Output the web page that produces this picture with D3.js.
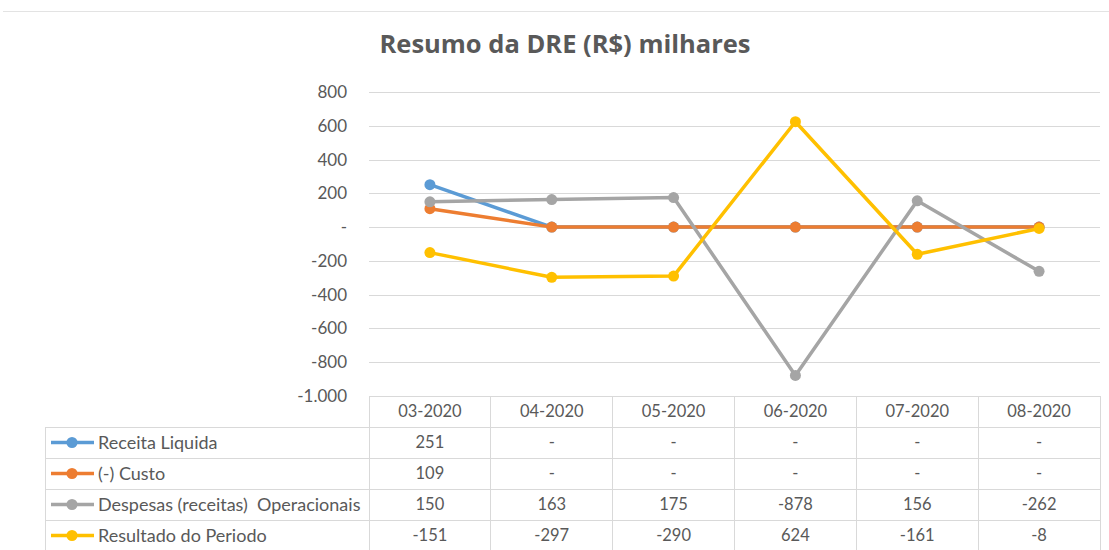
<!DOCTYPE html>
<html>
<head>
<meta charset="utf-8">
<script src="https://cdn.jsdelivr.net/npm/d3@7"></script>
<style>
  html, body { margin: 0; padding: 0; background: #fff; }
  svg { display: block; }
  text { white-space: pre; }
</style>
</head>
<body>
<div id="chart"></div>
<script>
// data (R$ milhares)
const months = ["03-2020", "04-2020", "05-2020", "06-2020", "07-2020", "08-2020"];
const seriesNames = ["Receita Liquida", "(-) Custo", "Despesas (receitas)  Operacionais", "Resultado do Periodo"];
const receitaLiquida = [251, 0, 0, 0, 0, 0];
const custo = [109, 0, 0, 0, 0, 0];
const despesas = [150, 163, 175, -878, 156, -262];
const resultado = [-151, -297, -290, 624, -161, -8];
const yTicks = [800, 600, 400, 200, 0, -200, -400, -600, -800, -1000];
const colors = ["#5B9BD5", "#ED7D31", "#A5A5A5", "#FFC000"];

const seriesValues = [receitaLiquida, custo, despesas, resultado];

let full_width = 1109;
let full_height = 550;
let plot = {left: 369, right: 1100, top: 92, bottom: 396};
let rowH = 31;
let tableLeft = 45;
let font = "Lato, 'Liberation Sans', sans-serif";
let textColor = "#595959";
let gridColor = "#D9D9D9";

// pt-BR style numbers: 1.000, zero shown as "-"
const loc = d3.formatLocale({decimal: ",", thousands: ".", grouping: [3], currency: ["R$", ""], minus: "-"});
const fmt = v => v === 0 ? "-" : loc.format(",d")(v);

let svg = d3.select('#chart')
	.append('svg')
		.attr('width', full_width)
		.attr('height', full_height)
		.style('font-family', font);

// thin frame line at top
svg.append('line')
	.attr('x1', 3).attr('x2', full_width)
	.attr('y1', 11.5).attr('y2', 11.5)
	.attr('stroke', '#E3E3E3');

svg.append('text')
	.attr('x', 565)
	.attr('y', 53)
	.attr('text-anchor', 'middle')
	.attr('font-family', "'Open Sans', sans-serif")
	.attr('font-weight', 'bold')
	.attr('font-size', '25.5px')
	.attr('fill', textColor)
	.text('Resumo da DRE (R$) milhares');

let x = d3.scaleBand()
	.domain(months)
	.range([plot.left, plot.right]);
let y = d3.scaleLinear()
	.domain([-1000, 800])
	.range([plot.bottom, plot.top]);

// gridlines + y labels
let yAxis = svg.append('g')
	.attr('transform', 'translate(' + plot.left + ',0)')
	.call(d3.axisLeft(y).tickValues(yTicks).tickSize(-(plot.right - plot.left)).tickFormat(fmt).tickPadding(22));
yAxis.select('.domain').remove();
yAxis.selectAll('.tick line')
	.attr('stroke', gridColor)
	.attr('shape-rendering', 'crispEdges');
yAxis.selectAll('.tick text')
	.attr('fill', textColor)
	.attr('font-family', font)
	.attr('font-size', '17px');

// data table
let table = svg.append('g').attr('shape-rendering', 'crispEdges');
let tableBottom = plot.bottom + rowH * 5;
// horizontal lines
table.append('line')
	.attr('x1', plot.left).attr('x2', plot.right)
	.attr('y1', plot.bottom).attr('y2', plot.bottom)
	.attr('stroke', gridColor);
for (let i = 1; i <= 5; ++i) {
	table.append('line')
		.attr('x1', tableLeft).attr('x2', plot.right)
		.attr('y1', plot.bottom + rowH * i).attr('y2', plot.bottom + rowH * i)
		.attr('stroke', gridColor);
}
// vertical lines
table.append('line')
	.attr('x1', tableLeft).attr('x2', tableLeft)
	.attr('y1', plot.bottom + rowH).attr('y2', tableBottom)
	.attr('stroke', gridColor);
months.forEach(m => {
	table.append('line')
		.attr('x1', x(m)).attr('x2', x(m))
		.attr('y1', plot.bottom).attr('y2', tableBottom)
		.attr('stroke', gridColor);
});
table.append('line')
	.attr('x1', plot.right).attr('x2', plot.right)
	.attr('y1', plot.bottom).attr('y2', tableBottom)
	.attr('stroke', gridColor);

// header row
svg.append('g')
	.selectAll('text')
	.data(months)
	.enter()
	.append('text')
		.attr('x', d => x(d) + x.bandwidth() / 2)
		.attr('y', plot.bottom + rowH / 2)
		.attr('dy', '0.35em')
		.attr('text-anchor', 'middle')
		.attr('font-size', '16.5px')
		.attr('fill', textColor)
		.text(d => d);

// value rows + legend keys
seriesValues.forEach((vals, s) => {
	let cy = plot.bottom + rowH * (s + 1) + rowH / 2;
	let row = svg.append('g');
	row.selectAll('text')
		.data(vals)
		.enter()
		.append('text')
			.attr('x', (d, i) => x(months[i]) + x.bandwidth() / 2)
			.attr('y', cy)
			.attr('dy', '0.35em')
			.attr('text-anchor', 'middle')
			.attr('font-size', '16.5px')
			.attr('fill', textColor)
			.text(d => fmt(d));
	row.append('line')
		.attr('x1', 51).attr('x2', 94)
		.attr('y1', cy).attr('y2', cy)
		.attr('stroke', colors[s])
		.attr('stroke-width', 3.5);
	row.append('circle')
		.attr('cx', 72).attr('cy', cy)
		.attr('r', 5.5)
		.attr('fill', colors[s]);
	row.append('text')
		.attr('x', 98)
		.attr('y', cy)
		.attr('dy', '0.35em')
		.attr('font-size', '18px')
		.attr('fill', textColor)
		.text(seriesNames[s]);
});

// lines, later series drawn on top (like Excel)
let line = d3.line()
	.x((d, i) => x(months[i]) + x.bandwidth() / 2)
	.y(d => y(d));

seriesValues.forEach((vals, s) => {
	let g = svg.append('g');
	g.append('path')
		.datum(vals)
		.attr('d', line)
		.attr('fill', 'none')
		.attr('stroke', colors[s])
		.attr('stroke-width', 3.5)
		.attr('stroke-linejoin', 'round');
	g.selectAll('circle')
		.data(vals)
		.enter()
		.append('circle')
			.attr('cx', (d, i) => x(months[i]) + x.bandwidth() / 2)
			.attr('cy', d => y(d))
			.attr('r', 5.5)
			.attr('fill', colors[s]);
});
</script>
</body>
</html>
